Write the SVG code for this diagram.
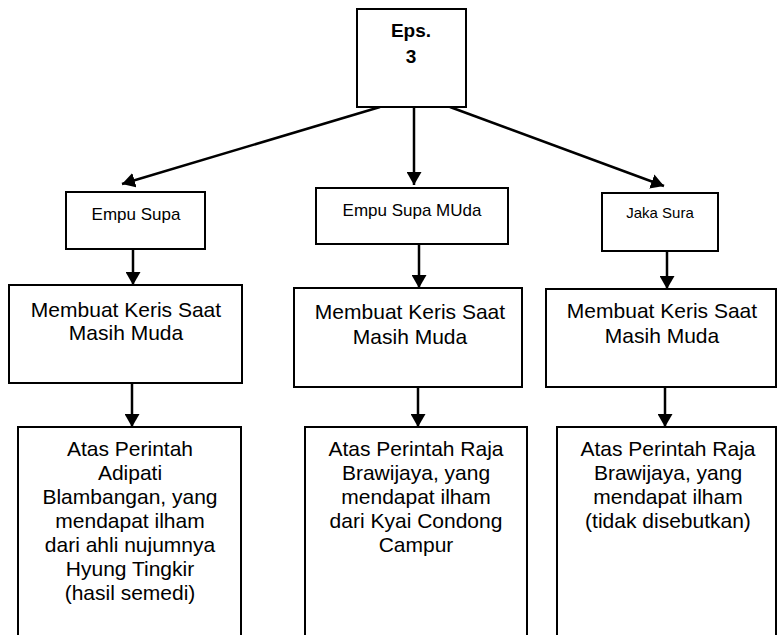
<svg xmlns="http://www.w3.org/2000/svg" width="778" height="635" viewBox="0 0 778 635">
  <style>
    .box { fill: #ffffff; stroke: #000000; stroke-width: 2; }
    .edge { fill: none; stroke: #000000; stroke-width: 2.5; marker-end: url(#arrow); }
    text { font-family: "Liberation Sans", Arial, sans-serif; fill: #000000; text-anchor: middle; }
    .big { font-size: 21px; }
    .mid { font-size: 17px; }
    .small { font-size: 15px; }
    .title { font-size: 19px; font-weight: bold; }
  </style>
  <defs>
    <marker id="arrow" markerUnits="userSpaceOnUse" markerWidth="14" markerHeight="15" refX="13" refY="7.5" orient="auto">
      <path d="M0,0 L13,7.5 L0,15 z" fill="#000000"/>
    </marker>
  </defs>
  <rect width="778" height="635" fill="#ffffff"/>

  <!-- connectors -->
  <g id="connectors">
    <line class="edge" x1="380" y1="107" x2="122" y2="184"/>
    <line class="edge" x1="414" y1="107" x2="414" y2="185"/>
    <line class="edge" x1="450" y1="107" x2="664" y2="186"/>
    <line class="edge" x1="133" y1="249" x2="133" y2="285"/>
    <line class="edge" x1="419" y1="244" x2="419" y2="288"/>
    <line class="edge" x1="667" y1="251" x2="667" y2="289"/>
    <line class="edge" x1="132" y1="383" x2="132" y2="427"/>
    <line class="edge" x1="418" y1="387" x2="418" y2="427"/>
    <line class="edge" x1="665" y1="387" x2="665" y2="427"/>
  </g>

  <!-- root -->
  <g id="eps3">
    <rect class="box" x="357" y="9" width="109" height="98"/>
    <text class="title" x="411" y="37">Eps.</text>
    <text class="title" x="411" y="63">3</text>
  </g>

  <!-- second level -->
  <g id="empu-supa">
    <rect class="box" x="66" y="192" width="139" height="57"/>
    <text class="mid" x="136" y="220">Empu Supa</text>
  </g>
  <g id="empu-supa-muda">
    <rect class="box" x="316" y="188" width="192" height="56"/>
    <text class="mid" x="412" y="216">Empu Supa MUda</text>
  </g>
  <g id="jaka-sura">
    <rect class="box" x="602" y="193" width="116" height="58"/>
    <text class="small" x="660" y="218">Jaka Sura</text>
  </g>

  <!-- third level -->
  <g id="keris-1">
    <rect class="box" x="9" y="285" width="233" height="98"/>
    <text class="big" x="126" y="317">Membuat Keris Saat</text>
    <text class="big" x="126" y="340">Masih Muda</text>
  </g>
  <g id="keris-2">
    <rect class="box" x="294" y="288" width="228" height="99"/>
    <text class="big" x="410" y="319">Membuat Keris Saat</text>
    <text class="big" x="410" y="344">Masih Muda</text>
  </g>
  <g id="keris-3">
    <rect class="box" x="546" y="289" width="230" height="98"/>
    <text class="big" x="662" y="318">Membuat Keris Saat</text>
    <text class="big" x="662" y="343">Masih Muda</text>
  </g>

  <!-- fourth level (boxes run past the lower edge) -->
  <g id="perintah-1">
    <rect class="box" x="18" y="427" width="223" height="220"/>
    <text class="big" x="130" y="456">Atas Perintah</text>
    <text class="big" x="130" y="480">Adipati</text>
    <text class="big" x="130" y="504">Blambangan, yang</text>
    <text class="big" x="130" y="528">mendapat ilham</text>
    <text class="big" x="130" y="552">dari ahli nujumnya</text>
    <text class="big" x="130" y="576">Hyung Tingkir</text>
    <text class="big" x="130" y="600">(hasil semedi)</text>
  </g>
  <g id="perintah-2">
    <rect class="box" x="305" y="427" width="222" height="220"/>
    <text class="big" x="416" y="456">Atas Perintah Raja</text>
    <text class="big" x="416" y="480">Brawijaya, yang</text>
    <text class="big" x="416" y="504">mendapat ilham</text>
    <text class="big" x="416" y="528">dari Kyai Condong</text>
    <text class="big" x="416" y="552">Campur</text>
  </g>
  <g id="perintah-3">
    <rect class="box" x="557" y="427" width="219" height="220"/>
    <text class="big" x="668" y="456">Atas Perintah Raja</text>
    <text class="big" x="668" y="480">Brawijaya, yang</text>
    <text class="big" x="668" y="504">mendapat ilham</text>
    <text class="big" x="668" y="528">(tidak disebutkan)</text>
  </g>
</svg>
